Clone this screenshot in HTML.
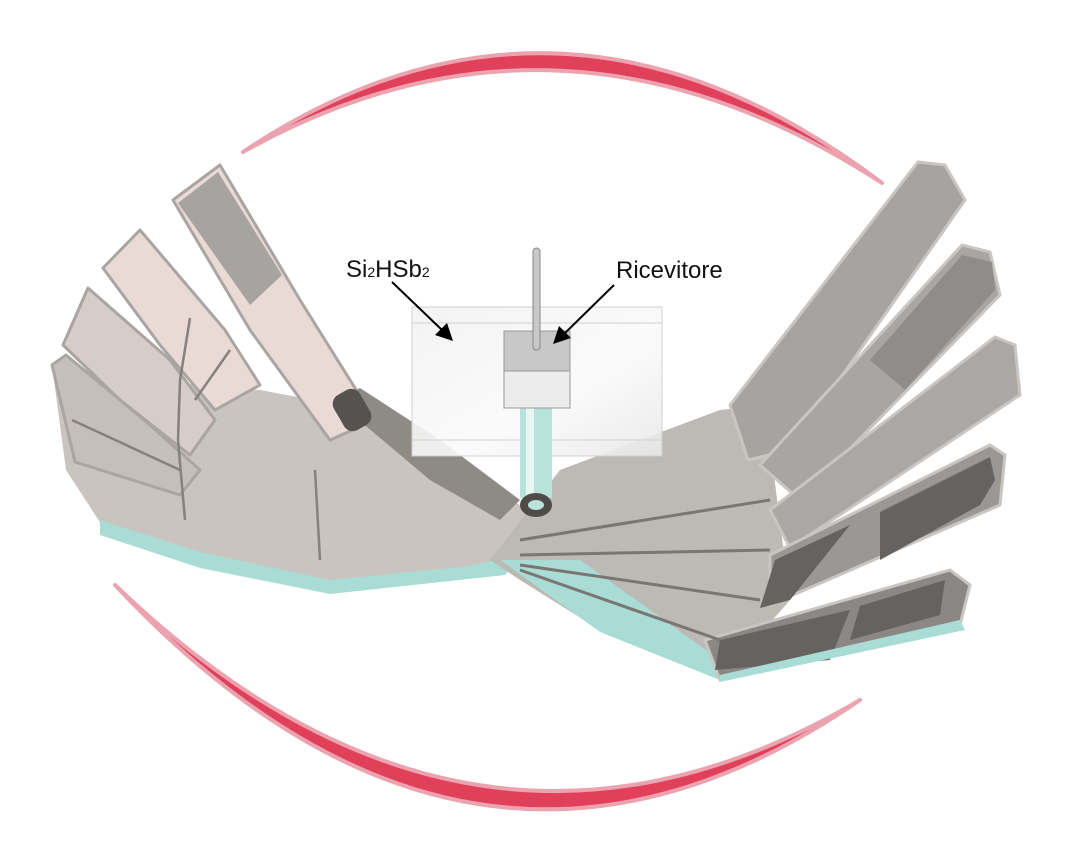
<!DOCTYPE html>
<html><head><meta charset="utf-8"><style>
html,body{margin:0;padding:0;background:#fff;width:1080px;height:855px;overflow:hidden}
svg{display:block}
text{font-family:"Liberation Sans",sans-serif;fill:#111}
</style></head><body>
<svg width="1080" height="855" viewBox="0 0 1080 855">
<defs>
<linearGradient id="g1" x1="0" y1="0" x2="1" y2="1"><stop offset="0" stop-color="#f2f2f2"/><stop offset="0.6" stop-color="#fafafa"/><stop offset="1" stop-color="#e8e8e8"/></linearGradient>
</defs>
<!-- red arcs -->
<path d="M243,152 Q560,-60 882,183 Q560,-26 243,152 z" fill="#e0405a" stroke="#eba3af" stroke-width="4" stroke-linejoin="round"/>
<path d="M115,585 Q472,966 860,700 Q472,928 115,585 z" fill="#e0405a" stroke="#eba3af" stroke-width="4" stroke-linejoin="round"/>
<!-- left hand palm -->
<polygon points="52,365 66,470 105,530 200,560 330,588 470,572 520,560 540,530 520,505 470,478 400,440 340,405 260,390 150,380" fill="#c9c4bf"/>
<polygon points="100,520 200,552 330,580 470,566 525,552 505,575 330,594 200,568 100,535" fill="#a9dcd4"/>
<!-- left fingers -->
<polygon points="173,200 220,165 300,300 375,420 330,440 250,330" fill="#eadad6" stroke="#a9a5a2" stroke-width="3" stroke-linejoin="round"/>
<polygon points="178,203 218,172 282,275 250,305" fill="#a6a3a0"/>
<polygon points="103,268 140,230 225,330 260,385 215,410 160,345" fill="#eadad6" stroke="#a9a5a2" stroke-width="3" stroke-linejoin="round"/>
<polygon points="63,345 88,288 170,360 215,420 190,455 120,400" fill="#d6ccc8" stroke="#a9a5a2" stroke-width="3" stroke-linejoin="round"/>
<polygon points="52,365 66,355 150,425 200,470 180,495 75,462" fill="#c4bfbb" stroke="#a9a5a2" stroke-width="3" stroke-linejoin="round"/>
<path d="M190,318 L180,380 L178,440 L185,520 M230,350 L195,400 M72,420 L180,470 M315,470 L320,560" stroke="#85817e" stroke-width="2.5" fill="none"/>
<!-- left thumb -->
<polygon points="335,400 360,388 440,440 520,500 500,520 430,480" fill="#8e8a86"/>
<rect x="337" y="390" width="30" height="40" rx="10" transform="rotate(-30 352 410)" fill="#55524f"/>
<!-- right hand palm -->
<polygon points="490,560 560,470 720,410 765,405 790,600 720,680 600,630 520,580" fill="#bdb9b5"/>
<polygon points="500,560 580,560 720,660 720,680 600,632" fill="#a9dcd4"/>
<!-- right fingers -->
<polygon points="730,405 918,162 945,165 965,200 790,450 748,460" fill="#a6a3a0" stroke="#c8c5c2" stroke-width="3"/>
<polygon points="760,465 962,245 990,252 1000,295 800,500" fill="#a8a5a2" stroke="#c8c5c2" stroke-width="3"/>
<polygon points="870,360 962,255 992,262 995,290 905,390" fill="#8f8c89"/>
<polygon points="770,510 995,337 1015,345 1020,395 790,548" fill="#aaa7a4" stroke="#c8c5c2" stroke-width="3"/>
<polygon points="770,555 990,445 1005,455 1000,505 770,605" fill="#9a9794" stroke="#c8c5c2" stroke-width="3"/>
<polygon points="775,560 850,525 790,600 760,608" fill="#66625f"/>
<polygon points="880,512 990,457 995,480 980,505 880,560" fill="#66625f"/>
<polygon points="705,640 950,570 970,585 960,625 720,680" fill="#8a8784" stroke="#c8c5c2" stroke-width="3"/>
<polygon points="720,640 850,610 830,660 715,670" fill="#66625f"/>
<polygon points="860,606 945,580 940,615 850,640" fill="#66625f"/>
<polygon points="720,675 960,620 965,630 720,682" fill="#a9dcd4"/>
<path d="M520,540 L770,500 M520,555 L770,550 M520,565 L760,600 M520,570 L720,640" stroke="#7a7673" stroke-width="3" fill="none"/>
<!-- central box -->
<rect x="412" y="307" width="250" height="149" fill="url(#g1)" fill-opacity="0.9" stroke="#d0d0d0"/>
<line x1="412" y1="323" x2="662" y2="323" stroke="#d0d0d0"/>
<line x1="412" y1="440" x2="662" y2="440" stroke="#d0d0d0"/>
<rect x="520" y="408" width="32" height="90" fill="#b8e2dc"/>
<rect x="526" y="408" width="8" height="90" fill="#e8f6f4"/>
<ellipse cx="536" cy="505" rx="16" ry="12" fill="#4e4b48"/>
<ellipse cx="536" cy="505" rx="8" ry="5" fill="#b8e2dc"/>
<rect x="504" y="331" width="66" height="40" fill="#c8c8c8" stroke="#999"/>
<rect x="504" y="371" width="66" height="37" fill="#ececec" stroke="#999"/>
<rect x="533" y="248" width="7" height="102" rx="3.5" fill="#c8c8c8" stroke="#888"/>
<!-- labels -->
<text x="346" y="277" font-size="24">Si<tspan font-size="14">2</tspan>HSb<tspan font-size="14">2</tspan></text>
<text x="616" y="278" font-size="24">Ricevitore</text>
<line x1="392" y1="282" x2="442" y2="330" stroke="#000" stroke-width="2"/>
<polygon points="453,341 435,335 447,323" fill="#000"/>
<line x1="614" y1="285" x2="564" y2="334" stroke="#000" stroke-width="2"/>
<polygon points="553,344 559,326 571,338" fill="#000"/>
</svg>
</body></html>
